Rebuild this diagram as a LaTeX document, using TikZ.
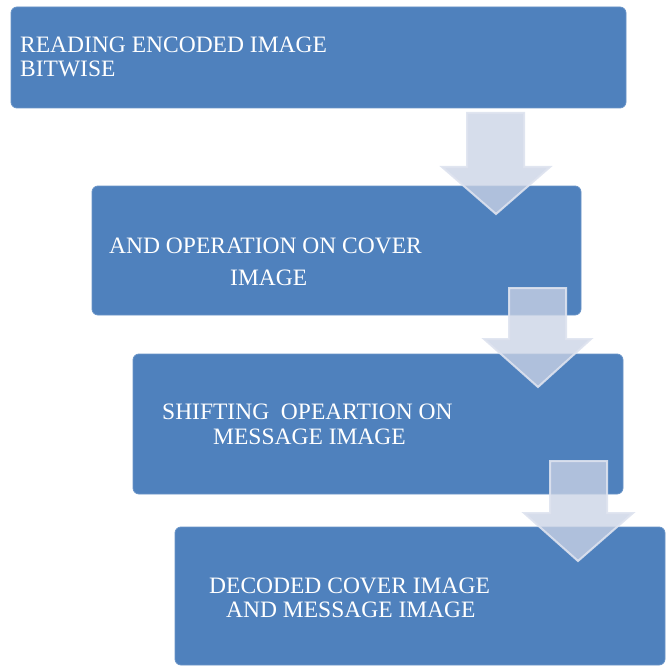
\documentclass[tikz,border=0pt]{standalone}
\usepackage{fontspec}
\setmainfont{Liberation Serif}
\definecolor{boxblue}{RGB}{79,129,189}
\definecolor{arrowfill}{RGB}{203,211,229}
\definecolor{arrowedge}{RGB}{222,227,239}
\begin{document}
\begin{tikzpicture}[x=1pt,y=-1pt,
  stepbox/.style={fill=boxblue,draw=boxblue!85!white,line width=0.8pt,rounded corners=6pt},
  lbl/.style={text=white,font=\fontsize{23.5}{26}\selectfont,inner sep=0pt,anchor=base west},
  downarrow/.style={fill=arrowfill,fill opacity=0.78,draw=arrowedge,draw opacity=0.9,line width=2pt,line join=miter}]
\useasboundingbox (0,0) rectangle (672,666);
% boxes
\draw[stepbox] (11,7) rectangle (626,108);
\draw[stepbox] (92,186) rectangle (581,315);
\draw[stepbox] (133,354) rectangle (623,494);
\draw[stepbox] (175,527) rectangle (665,665);
% texts
\node[lbl] (t1a) at (20,53) {READING ENCODED IMAGE};
\node[lbl] (t1b) at (20,77) {BITWISE};
\node[lbl] (t2a) at (109,253) {AND OPERATION ON COVER};
\node[lbl] (t2b) at (230,285) {IMAGE};
\node[lbl] (t3a) at (162,419) {SHIFTING\ \ OPEARTION ON};
\node[lbl] (t3b) at (213,444) {MESSAGE IMAGE};
\node[lbl] (t4a) at (209,593) {DECODED COVER IMAGE};
\node[lbl] (t4b) at (226,617) {AND MESSAGE IMAGE};
% arrows
\draw[downarrow] (467,113) -- (524,113) -- (524,167) -- (550,167) -- (496,214) -- (442,167) -- (467,167) -- cycle;
\draw[downarrow] (509,288) -- (566,288) -- (566,339) -- (591,339) -- (538,387) -- (484,339) -- (509,339) -- cycle;
\draw[downarrow] (550,461) -- (607,461) -- (607,513) -- (633,513) -- (578,561) -- (524,513) -- (550,513) -- cycle;
\end{tikzpicture}
\end{document}
